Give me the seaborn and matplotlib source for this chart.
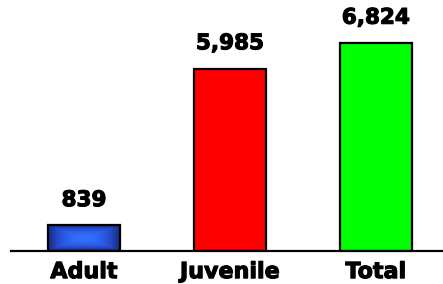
import numpy as np
import pandas as pd
import matplotlib
matplotlib.use('Agg')
import matplotlib.pyplot as plt
import matplotlib.patheffects as pe
import seaborn as sns
from matplotlib.colors import LinearSegmentedColormap

categories = ['Adult', 'Juvenile', 'Total']
counts = [839, 5985, 6824]
bar_colors = ['#2a5cf0', '#ff0000', '#00ff00']

df = pd.DataFrame({'group': categories, 'count': counts})

sns.set_style('white')
plt.rcParams['font.family'] = ['DejaVu Sans']
plt.rcParams['text.color'] = 'black'
plt.rcParams['xtick.color'] = 'black'

fig = plt.figure(figsize=(4.43, 2.84), dpi=100)
ax = fig.add_axes([11 / 443, 33 / 284, 432 / 443, 251 / 284])

sns.barplot(data=df, x='group', y='count', hue='group', palette=bar_colors,
            saturation=1, width=0.49, edgecolor='black', linewidth=1.6,
            legend=False, ax=ax)

# gradient fill on the Adult bar (bright centre, dark rim)
blue = LinearSegmentedColormap.from_list('b', ['#112466', '#2448c8', '#3170ff'])
p = ax.patches[0]
x0, y0 = p.get_x(), p.get_y()
w, h = p.get_width(), p.get_height()
gx = np.abs(np.linspace(-1, 1, 120))[None, :]
gy = np.abs(np.linspace(-1, 1, 40))[:, None]
grad = 1 - np.clip(np.maximum(gx ** 2, gy ** 2) * 0.9, 0, 1)
img = ax.imshow(grad, cmap=blue, extent=[x0, x0 + w, y0, y0 + h],
                aspect='auto', zorder=p.get_zorder(), vmin=0, vmax=1,
                interpolation='bilinear')
img.set_clip_path(p)
p.set_facecolor('none')
p.set_zorder(p.get_zorder() + 0.1)

heavy = [pe.withStroke(linewidth=0.8, foreground='black')]

for i, v in enumerate(counts):
    ax.annotate(f'{v:,}', (i, v), xytext=(0, 11), textcoords='offset points',
                ha='center', va='bottom', fontsize=15.5, fontweight='bold',
                path_effects=heavy)

ax.set_xlim(-0.5, 2.46)
ax.set_ylim(0, 8235)
ax.set_xlabel('')
ax.set_ylabel('')
ax.set_yticks([])
ax.tick_params(axis='x', length=0, pad=8, labelsize=16)
for lab in ax.get_xticklabels():
    lab.set_fontweight('bold')
    lab.set_path_effects(heavy)
for s in ['top', 'left', 'right']:
    ax.spines[s].set_visible(False)
ax.spines['bottom'].set_linewidth(1.6)
ax.spines['bottom'].set_color('black')

fig.savefig('out.png', dpi=100)
